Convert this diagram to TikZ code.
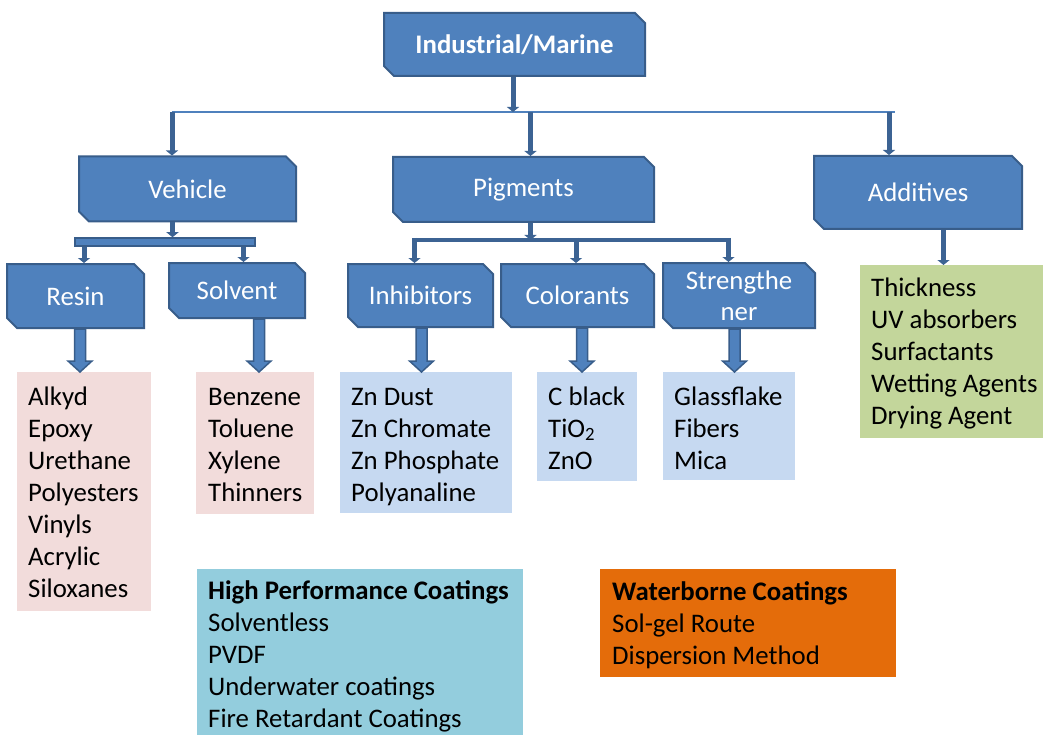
\documentclass[tikz,border=0pt]{standalone}
\usepackage{fontspec}
\setmainfont{Carlito}
\usetikzlibrary{shapes.misc,arrows.meta,calc}

\definecolor{boxfill}{HTML}{4F81BD}
\definecolor{boxline}{HTML}{385D8A}
\definecolor{connc}{HTML}{3C6393}
\definecolor{pinkbg}{HTML}{F2DCDB}
\definecolor{bluebg}{HTML}{C6D9F1}
\definecolor{greenbg}{HTML}{C3D69B}
\definecolor{tealbg}{HTML}{93CDDD}
\definecolor{orangebg}{HTML}{E46C0A}

\newcommand\bigtext{\fontsize{26.8}{32}\selectfont}

\tikzset{
  catbox/.style={chamfered rectangle,
    chamfered rectangle corners={north east,south west},
    chamfered rectangle xsep=5pt, chamfered rectangle ysep=5pt,
    fill=boxfill, draw=boxline, line width=2pt, inner sep=0pt,
    text=white, font=\bigtext, align=center},
  listbox/.style={rectangle, inner sep=0pt, draw=none, anchor=north west},
  listtext/.style={anchor=north west, inner sep=0pt, align=left,
    font=\bigtext, text=black},
  conn/.style={draw=connc, line width=5pt,
    -{Triangle[width=12pt,length=5pt]}},
  busline/.style={draw=boxfill, line width=1.5pt},
  tieline/.style={draw=connc, line width=4pt},
  blockarrow/.style={fill=boxfill, draw=boxline, line width=1.5pt,
    line join=miter,
    to path={let \p1=(\tikztostart), \p2=(\tikztotarget) in
      (\x1-5.5pt,\y1) -- (\x1-5.5pt,\y2+11pt) -- (\x1-12pt,\y2+11pt)
      -- (\x1,\y2) -- (\x1+12pt,\y2+11pt) -- (\x1+5.5pt,\y2+11pt)
      -- (\x1+5.5pt,\y1) -- cycle}},
}

\begin{document}
\begin{tikzpicture}[x=1pt,y=-1pt]
  \fill[white] (0,0) rectangle (1043,735);
  \useasboundingbox (0,0) rectangle (1043,735);

  % list boxes
  \node[listbox, fill=pinkbg, minimum width=134pt, minimum height=239pt] (resinlist) at (17,372) {};
  \node[listbox, fill=pinkbg, minimum width=118pt, minimum height=142pt] (solventlist) at (196,372) {};
  \node[listbox, fill=bluebg, minimum width=172pt, minimum height=141pt] (inhiblist) at (340,372) {};
  \node[listbox, fill=bluebg, minimum width=100pt, minimum height=109pt] (colorlist) at (537,372) {};
  \node[listbox, fill=bluebg, minimum width=132pt, minimum height=108pt] (stronglist) at (663,372) {};
  \node[listbox, fill=greenbg, minimum width=183pt, minimum height=173pt] (addlist) at (860,265) {};
  \node[listbox, fill=tealbg, minimum width=326pt, minimum height=166pt] (hpc) at (197,569) {};
  \node[listbox, fill=orangebg, minimum width=296pt, minimum height=108pt] (water) at (600,569) {};

  % list texts
  \node[listtext] (resintxt) at (28,382.4) {\strut Alkyd\\Epoxy\\Urethane\\Polyesters\\Vinyls\\Acrylic\\Siloxanes};
  \node[listtext] (solventtxt) at (208,382.4) {\strut Benzene\\Toluene\\Xylene\\Thinners};
  \node[listtext] (inhibtxt) at (351,382.4) {\strut Zn Dust\\Zn Chromate\\Zn Phosphate\\Polyanaline};
  \node[listtext] (colortxt) at (548,382.4) {\strut C black\\TiO\textsubscript{2}\\ZnO};
  \node[listtext] (strongtxt) at (674,382.4) {\strut Glassflake\\Fibers\\Mica};
  \node[listtext] (addtxt) at (871,273.6) {\strut Thickness\\UV absorbers\\Surfactants\\Wetting Agents\\Drying Agent};
  \node[listtext] (hpctxt) at (208,577.1) {\strut\textbf{High Performance Coatings}\\Solventless\\PVDF\\Underwater coatings\\Fire Retardant Coatings};
  \node[listtext] (watertxt) at (612,577.6) {\strut\textbf{Waterborne Coatings}\\Sol-gel Route\\Dispersion Method};

  % category boxes
  \node[catbox, minimum width=261pt, minimum height=63pt] (top) at (514.5,44.5) {\textbf{Industrial/Marine}};
  \node[catbox, minimum width=217pt, minimum height=65pt] (vehicle) at (187.5,189) {Vehicle};
  \node[catbox, minimum width=261pt, minimum height=65pt] (pigments) at (523.5,189.5) {Pigments};
  \node[catbox, minimum width=208pt, minimum height=73pt] (additives) at (918,192.5) {Additives};
  \node[catbox, minimum width=137pt, minimum height=64pt] (resin) at (75.5,296) {Resin};
  \node[catbox, minimum width=136pt, minimum height=55pt] (solvent) at (237,290.5) {Solvent};
  \node[catbox, minimum width=145pt, minimum height=63pt] (inhibitors) at (420.5,295.5) {Inhibitors};
  \node[catbox, minimum width=153pt, minimum height=63pt] (colorants) at (577.5,295.5) {Colorants};
  \node[catbox, minimum width=152pt, minimum height=65pt, font=\fontsize{26.8}{31}\selectfont] (strengthener) at (739,295.5) {Strengthe\\ner};

  % bar under Vehicle
  \node[rectangle, fill=boxfill, draw=boxline, line width=1.5pt, inner sep=0pt,
        minimum width=180pt, minimum height=8pt] (vbar) at (165,242) {};

  % junction points
  \coordinate (busL) at (172,112);
  \coordinate (busR) at (895,112);
  \coordinate (topdrop) at (513,112);
  \coordinate (pigin) at (530.5,112);
  \coordinate (addin) at (889,112);
  \coordinate (vehx) at (172.5,0);
  \coordinate (resx) at (84,0);
  \coordinate (solx) at (243.5,0);
  \coordinate (pigx) at (530.5,0);
  \coordinate (tieL) at (412,240);
  \coordinate (tieR) at (731,240);
  \coordinate (inhx) at (414.5,238);
  \coordinate (colx) at (576,238);
  \coordinate (strx) at (728.5,238);
  \coordinate (addx) at (943.5,0);

  % top level bus
  \draw[busline] (busL) -- (busR);
  \draw[conn] (top.south -| topdrop) -- (topdrop);
  \draw[conn] (busL) -- (vehicle.north -| busL);
  \draw[conn] (pigin) -- (pigments.north -| pigin);
  \draw[conn] (addin) -- (additives.north -| addin);

  % Vehicle branch
  \draw[conn] (vehicle.south -| vehx) -- (vbar.north -| vehx);
  \draw[conn] (vbar.south -| resx) -- (resin.north -| resx);
  \draw[conn] (vbar.south -| solx) -- (solvent.north -| solx);

  % Pigments branch
  \draw[conn] (pigments.south -| pigx) -- (tieL -| pigx);
  \draw[tieline] (tieL) -- (tieR);
  \draw[conn] (inhx) -- (inhibitors.north -| inhx);
  \draw[conn] (colx) -- (colorants.north -| colx);
  \draw[conn] (strx) -- (strengthener.north -| strx);

  % Additives branch
  \draw[conn] (additives.south -| addx) -- (addlist.north -| addx);

  % block arrows to the lists
  \coordinate (rbx) at (80,0);
  \coordinate (sbx) at (259,0);
  \coordinate (ibx) at (421.5,0);
  \coordinate (cbx) at (582,0);
  \coordinate (tbx) at (734.5,0);
  \draw[blockarrow] (resin.south -| rbx) to (resinlist.north -| rbx);
  \draw[blockarrow] (solvent.south -| sbx) to (solventlist.north -| sbx);
  \draw[blockarrow] (inhibitors.south -| ibx) to (inhiblist.north -| ibx);
  \draw[blockarrow] (colorants.south -| cbx) to (colorlist.north -| cbx);
  \draw[blockarrow] (strengthener.south -| tbx) to (stronglist.north -| tbx);
\end{tikzpicture}
\end{document}
